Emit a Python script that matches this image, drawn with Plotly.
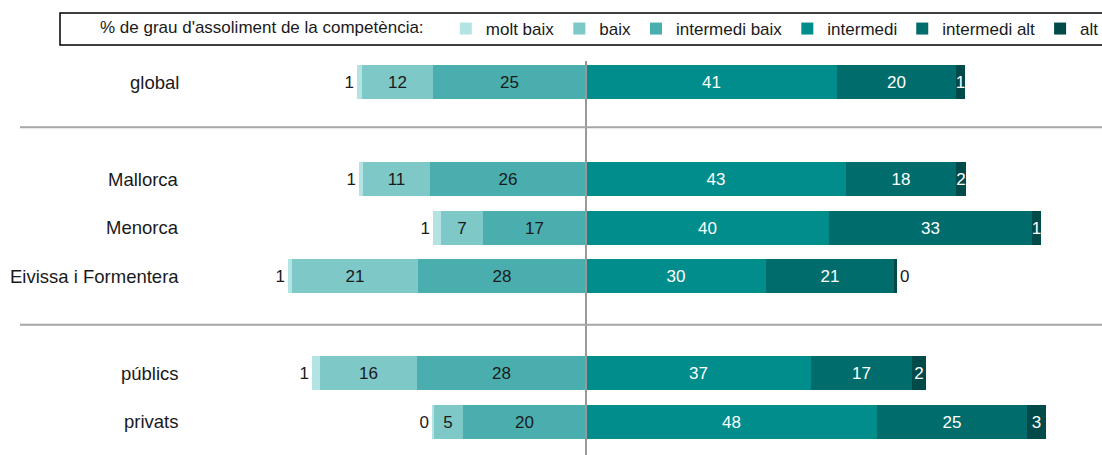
import plotly.graph_objects as go

# ---- data ----
categories = ["global", "Mallorca", "Menorca", "Eivissa i Formentera", "públics", "privats"]
groups = [0, 1, 1, 1, 2, 2]  # blank row between groups

levels = ["molt baix", "baix", "intermedi baix", "intermedi", "intermedi alt", "alt"]
molt_baix      = [0.8, 0.8, 1.3, 0.6, 1.3, 0.2]
baix           = [11.7, 10.9, 6.9, 20.7, 16.0, 4.9]
intermedi_baix = [25.1, 25.7, 16.9, 27.7, 27.8, 20.2]
intermedi      = [41.2, 42.8, 40.0, 29.6, 37.0, 47.9]
intermedi_alt  = [19.7, 18.1, 33.4, 21.1, 16.6, 24.7]
alt            = [1.4, 1.6, 1.4, 0.4, 2.4, 3.1]

colors = {
    "molt baix": "#B3E3E3",
    "baix": "#7FC8C8",
    "intermedi baix": "#4AAEAE",
    "intermedi": "#008D8C",
    "intermedi alt": "#006D6C",
    "alt": "#004A49",
}

FONT = "Liberation Sans, Arial, sans-serif"
FS = 17
FS_CAT = 18.5

# y positions: one blank slot between groups
ypos = []
seps = []
p = 0
prev = groups[0]
for g in groups:
    if g != prev:
        seps.append(p)
        p += 1
        prev = g
    ypos.append(p)
    p += 1

def lab(vals):
    return [str(int(round(v))) for v in vals]

fig = go.Figure()

neg = [("intermedi baix", intermedi_baix, 3), ("baix", baix, 2), ("molt baix", molt_baix, 1)]
pos = [("intermedi", intermedi, 4), ("intermedi alt", intermedi_alt, 5), ("alt", alt, 6)]

for name, vals, rank in neg:
    tp = "outside" if name == "molt baix" else "inside"
    fig.add_trace(go.Bar(
        y=ypos, x=[-v for v in vals], orientation="h", name=name,
        marker=dict(color=colors[name], line=dict(width=0)),
        text=lab(vals), textposition=tp, insidetextanchor="middle",
        constraintext="none", textangle=0, cliponaxis=False,
        insidetextfont=dict(color="#1a1a1a", size=FS, family=FONT),
        outsidetextfont=dict(color="#1a1a1a", size=FS, family=FONT),
        legendrank=rank, width=0.7, hoverinfo="skip",
    ))

for name, vals, rank in pos:
    labels = lab(vals)
    tps = ["outside" if l == "0" else "inside" for l in labels]
    fig.add_trace(go.Bar(
        y=ypos, x=vals, orientation="h", name=name,
        marker=dict(color=colors[name], line=dict(width=0)),
        text=labels, textposition=tps, insidetextanchor="middle",
        constraintext="none", textangle=0, cliponaxis=False,
        insidetextfont=dict(color="white", size=FS, family=FONT),
        outsidetextfont=dict(color="#1a1a1a", size=FS, family=FONT),
        legendrank=rank, width=0.7, hoverinfo="skip",
    ))

W, H = 1102, 455
top, bottom = 61, 0
plot_h = H - top - bottom

def px_x(xr):
    return xr / W

def px_y(yr):
    return 1 - (yr - top) / plot_h

row0_px, row_px = 82, 48.57
y_top = (top - row0_px) / row_px
y_bot = (H - bottom - row0_px) / row_px

center_px, unit_px = 586, 6.08
x_min = -center_px / unit_px
x_max = (W - center_px) / unit_px

shapes = []
shapes.append(dict(type="line", xref="x", yref="paper", x0=0, x1=0, y0=0, y1=1,
                   line=dict(color="#999999", width=2), layer="above"))
for i, s in enumerate(seps):
    gy = s - 0.07 if i == 0 else s
    shapes.append(dict(type="line", xref="paper", yref="y", x0=px_x(20), x1=1, y0=gy, y1=gy,
                       line=dict(color="#A6A6A6", width=2), layer="above"))
shapes.append(dict(type="rect", xref="paper", yref="paper",
                   x0=px_x(60), x1=1.01, y0=px_y(45), y1=px_y(13),
                   line=dict(color="#000000", width=1.5), fillcolor="rgba(0,0,0,0)"))

annotations = []
for c, yp in zip(categories, ypos):
    annotations.append(dict(xref="paper", yref="y", x=px_x(181), y=yp, xanchor="right",
                            yanchor="middle", text=c, showarrow=False,
                            font=dict(size=FS_CAT, color="#1a1a1a", family=FONT)))

fig.update_layout(
    width=W, height=H,
    margin=dict(l=0, r=0, t=top, b=bottom, autoexpand=False),
    barmode="relative",
    bargap=0,
    plot_bgcolor="white", paper_bgcolor="white",
    font=dict(family=FONT, size=FS, color="#1a1a1a"),
    xaxis=dict(range=[x_min, x_max], visible=False, fixedrange=True),
    yaxis=dict(range=[y_bot, y_top], visible=False, fixedrange=True),
    showlegend=True,
    legend=dict(
        orientation="h", xref="container", yref="container",
        x=98 / W, xanchor="left",
        y=1 - 29 / H, yanchor="middle",
        title=dict(text="% de grau d'assoliment de la competència:\u00a0\u00a0\u00a0", side="left",
                   font=dict(size=FS, family=FONT)),
        font=dict(size=FS, family=FONT, color="#1a1a1a"),
        bgcolor="rgba(0,0,0,0)", borderwidth=0,
        itemwidth=30, traceorder="normal",
    ),
    shapes=shapes, annotations=annotations,
)

fig.write_html(
    "out.html",
    config={"displayModeBar": False},
    post_script="document.body.style.margin='0';document.body.style.overflow='hidden';",
)
